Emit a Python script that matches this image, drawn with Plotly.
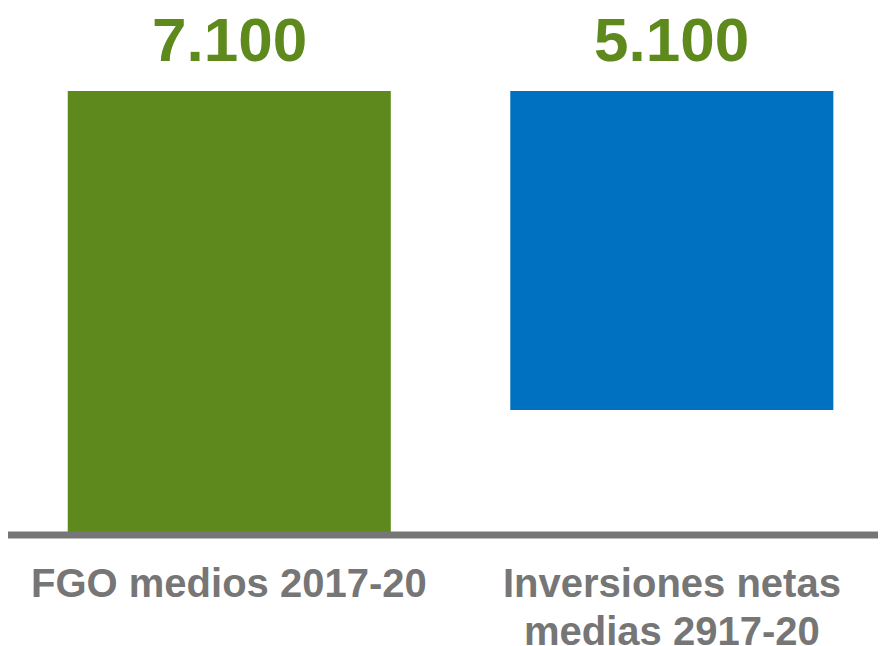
import plotly.graph_objects as go

categories = [["FGO medios 2017-20"], ["Inversiones netas", "medias 2917-20"]]
values = [7100, 5100]
colors = ["#5E891D", "#0070C0"]
label_color = "#5E891D"
axis_color = "#767676"
FONT = "Liberation Sans, Arial, sans-serif"

# floating second bar (waterfall style): ends at the top of the first bar
bases = [0, values[0] - values[1]]
tops = [b + v for b, v in zip(bases, values)]

fig = go.Figure()
fig.add_trace(go.Bar(
    x=[0, 1], y=values, base=bases,
    marker=dict(color=colors, line=dict(width=0)),
    width=0.73, hoverinfo="skip",
))

annotations = []
for i, (t, v) in enumerate(zip(tops, values)):
    annotations.append(dict(
        x=i, y=t, xref="x", yref="y", text="<b>" + f"{v:,}".replace(",", ".") + "</b>",
        showarrow=False, yanchor="bottom", yshift=15,
        font=dict(family=FONT, size=62, color=label_color),
    ))
for i, lines in enumerate(categories):
    for j, line in enumerate(lines):
        annotations.append(dict(
            x=i, y=0, xref="x", yref="paper", text=f"<b>{line}</b>",
            showarrow=False, yanchor="top", yshift=-24 - 48 * j,
            font=dict(family=FONT, size=40, color=axis_color),
        ))

fig.update_layout(
    width=878, height=638,
    margin=dict(l=0, r=0, t=0, b=111),
    paper_bgcolor="white", plot_bgcolor="white",
    showlegend=False,
    xaxis=dict(range=[-0.5, 1.484], visible=False, fixedrange=True),
    yaxis=dict(range=[0, 8427], visible=False, fixedrange=True),
    annotations=annotations,
    shapes=[dict(type="line", xref="paper", yref="paper", x0=0, x1=1, y0=0, y1=0,
                 line=dict(color=axis_color, width=7), layer="above")],
)

fig.write_html("out.html")
